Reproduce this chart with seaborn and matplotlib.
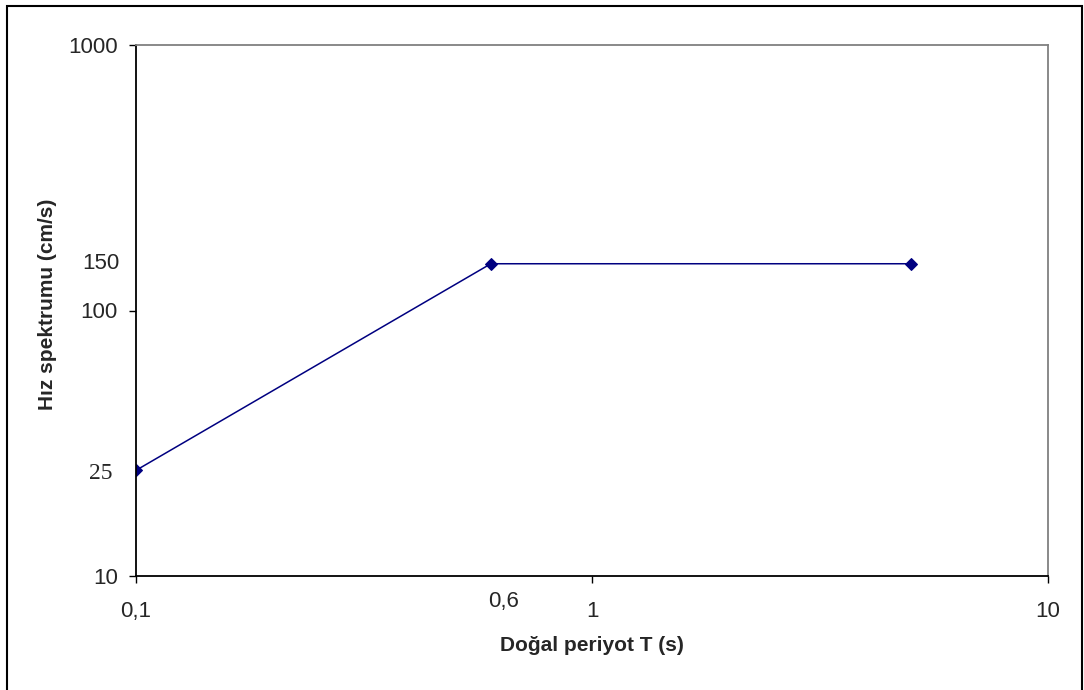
import numpy as np
import pandas as pd
import seaborn as sns
import matplotlib
matplotlib.use('Agg')
import matplotlib.pyplot as plt
from matplotlib.patches import Rectangle
import matplotlib.transforms as mtransforms

# data
periods = [0.1, 0.6, 5.0]          # T (s)
velocities = [25, 150, 150]        # cm/s
x_ticks = [0.1, 1, 10]
x_tick_labels = ['0,1', '1', '10']
y_ticks = [10, 100, 1000]
y_tick_labels = ['10', '100', '1000']

df = pd.DataFrame({'T': periods, 'V': velocities})

sns.set_style('white')
plt.rcParams['font.family'] = ['Liberation Sans', 'DejaVu Sans']

fig = plt.figure(figsize=(10.84, 6.90), dpi=100)
ax = fig.add_axes([136 / 1084, 1 - 576 / 690, (1048 - 136) / 1084, (576 - 45) / 690])

sns.lineplot(data=df, x='T', y='V', ax=ax, color='#000080', linewidth=1.1,
             marker='D', markersize=6.5, markeredgecolor='#000080', sort=False)

ax.set_xscale('log')
ax.set_yscale('log')
ax.set_xlim(0.1, 10)
ax.set_ylim(10, 1000)
ax.set_xticks(x_ticks)
ax.set_xticklabels(x_tick_labels)
ax.set_yticks(y_ticks)
ax.set_yticklabels(y_tick_labels)
ax.minorticks_off()
ax.tick_params(axis='x', direction='out', length=5, width=1, color='black',
               labelsize=16, pad=13, bottom=True)
ax.tick_params(axis='y', direction='out', length=5, width=1, color='black',
               labelsize=16, pad=8, left=True)

# 边框: 左下黑, 上右灰
for s in ['left', 'bottom']:
    ax.spines[s].set_color('black')
    ax.spines[s].set_linewidth(1.3)
for s in ['top', 'right']:
    ax.spines[s].set_color('#808080')
    ax.spines[s].set_linewidth(1.3)

ax.set_xlabel('Doğal periyot T (s)', fontsize=15, fontweight='bold')
ax.set_ylabel('Hız spektrumu (cm/s)', fontsize=15, fontweight='bold')
ax.xaxis.set_label_coords(0.5, -0.113)
ax.yaxis.set_label_coords(-0.0866, 0.512)

# 额外标注: 25, 150, 0,6
ytrans = mtransforms.blended_transform_factory(ax.transAxes, ax.transData)
ax.annotate(str(velocities[1]), xy=(0, velocities[1]), xycoords=ytrans,
            xytext=(-17, 0), textcoords='offset pixels', ha='right', va='center',
            fontsize=16, annotation_clip=False)
ax.annotate(str(velocities[0]), xy=(0, velocities[0]), xycoords=ytrans,
            xytext=(-24, -3), textcoords='offset pixels', ha='right', va='center',
            fontsize=17, family=['Liberation Serif', 'DejaVu Serif'], annotation_clip=False)
xtrans = mtransforms.blended_transform_factory(ax.transData, ax.transAxes)
ax.annotate('0,6', xy=(periods[1], 0), xycoords=xtrans,
            xytext=(-3, -25), textcoords='offset pixels', ha='left', va='center',
            fontsize=16, annotation_clip=False)

# 外框
fig.patches.append(Rectangle((7 / 1084, -0.02), (1082 - 7) / 1084, 1 - 6 / 690 + 0.02,
                             transform=fig.transFigure, fill=False,
                             edgecolor='black', linewidth=1.5))

fig.savefig('out.png', dpi=100)
